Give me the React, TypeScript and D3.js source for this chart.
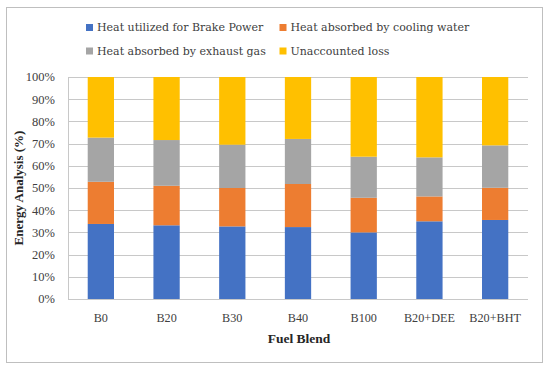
import React, { useEffect, useRef } from 'react';
import * as d3 from 'd3';

const blends = ['B0', 'B20', 'B30', 'B40', 'B100', 'B20+DEE', 'B20+BHT'];
const brakePower = [33.8, 33.2, 32.7, 32.4, 30.0, 35.0, 35.6];
const coolingWater = [19.0, 17.8, 17.3, 19.4, 15.6, 11.2, 14.5];
const exhaustGas = [19.9, 20.6, 19.5, 20.3, 18.5, 17.6, 19.1];
const unaccounted = [27.3, 28.4, 30.5, 27.9, 35.9, 36.2, 30.8];
const seriesNames = [
  'Heat utilized for Brake Power',
  'Heat absorbed by cooling water',
  'Heat absorbed by exhaust gas',
  'Unaccounted loss',
];
const colors = ['#4472C4', '#ED7D31', '#A5A5A5', '#FFC000'];
const yTicks = [0, 10, 20, 30, 40, 50, 60, 70, 80, 90, 100];

const W = 550, H = 370;
const margin = { left: 68, right: 22, top: 77, bottom: 71 };
const serif = '"Liberation Serif", serif';
const wideSerif = '"DejaVu Serif", serif';

export default function App() {
  const ref = useRef<SVGSVGElement>(null);

  useEffect(() => {
    document.body.style.margin = '0';
    const svg = d3.select(ref.current);
    svg.selectAll('*').remove();

    // outer frame
    svg.append('rect')
      .attr('x', 6.5).attr('y', 7.5).attr('width', 536).attr('height', 355)
      .attr('fill', '#fff').attr('stroke', '#bfbfbf');

    const rows = blends.map((b, i) => ({
      blend: b,
      s0: brakePower[i], s1: coolingWater[i], s2: exhaustGas[i], s3: unaccounted[i],
    }));
    const stacked = d3.stack<any>().keys(['s0', 's1', 's2', 's3'])(rows);

    const x = d3.scaleBand().domain(blends)
      .range([margin.left, W - margin.right]).paddingInner(0.6).paddingOuter(0.3);
    const y = d3.scaleLinear().domain([0, 100]).range([H - margin.bottom, margin.top]);

    // gridlines
    svg.append('g').selectAll('line').data(yTicks).join('line')
      .attr('x1', margin.left).attr('x2', W - margin.right)
      .attr('y1', d => Math.round(y(d)) + 0.5).attr('y2', d => Math.round(y(d)) + 0.5)
      .attr('stroke', '#c8c8c8').attr('stroke-width', 1);
    svg.append('line')
      .attr('x1', margin.left + 0.5).attr('x2', margin.left + 0.5)
      .attr('y1', y(100)).attr('y2', y(0))
      .attr('stroke', '#c8c8c8');

    // bars
    svg.append('g').selectAll('g').data(stacked).join('g')
      .attr('fill', (_, i) => colors[i])
      .selectAll('rect').data(d => d).join('rect')
      .attr('x', d => x(d.data.blend)!)
      .attr('width', x.bandwidth())
      .attr('y', d => y(d[1]))
      .attr('height', d => y(d[0]) - y(d[1]));

    // y tick labels
    svg.append('g').selectAll('text').data(yTicks).join('text')
      .attr('x', 55).attr('y', d => y(d)).attr('dy', '0.35em')
      .attr('text-anchor', 'end')
      .attr('font-family', serif).attr('font-size', 12.5).attr('fill', '#404040')
      .text(d => d + '%');

    // x tick labels
    svg.append('g').selectAll('text').data(blends).join('text')
      .attr('x', d => x(d)! + x.bandwidth() / 2).attr('y', 322)
      .attr('text-anchor', 'middle')
      .attr('font-family', serif).attr('font-size', 12.2).attr('fill', '#404040')
      .text(d => d);

    // axis titles
    svg.append('text')
      .attr('x', 299).attr('y', 342.5).attr('text-anchor', 'middle')
      .attr('font-family', serif).attr('font-size', 13.5).attr('font-weight', 'bold')
      .attr('fill', '#262626').text('Fuel Blend');
    svg.append('text')
      .attr('transform', `translate(23,${(y(0) + y(100)) / 2}) rotate(-90)`)
      .attr('text-anchor', 'middle')
      .attr('font-family', serif).attr('font-size', 13).attr('font-weight', 'bold')
      .attr('fill', '#262626').text('Energy Analysis (%)');

    // legend
    const legendPos = [[86, 27.5], [279.5, 27.5], [86, 51], [279.5, 51]];
    const lg = svg.append('g').selectAll('g').data(seriesNames).join('g')
      .attr('transform', (_, i) => `translate(${legendPos[i][0]},${legendPos[i][1]})`);
    lg.append('rect').attr('x', 0).attr('y', -3.5).attr('width', 7).attr('height', 7)
      .attr('fill', (_, i) => colors[i]);
    lg.append('text').attr('x', 11).attr('dy', '0.35em')
      .attr('font-family', wideSerif).attr('font-size', 11).attr('fill', '#404040')
      .text(d => d);
  }, []);

  return <svg ref={ref} width={W} height={H} style={{ display: 'block' }} />;
}
